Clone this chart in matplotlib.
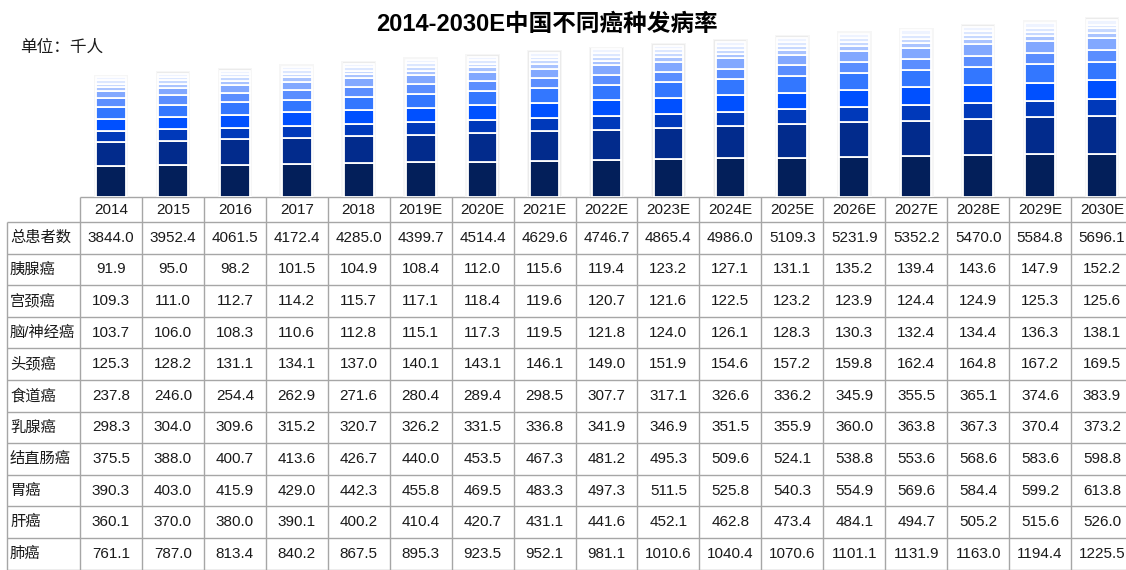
import matplotlib.pyplot as plt
import numpy as np

plt.rcParams['font.family'] = ['Liberation Sans', 'Noto Sans CJK SC']

years = ['2014', '2015', '2016', '2017', '2018', '2019E', '2020E', '2021E', '2022E',
         '2023E', '2024E', '2025E', '2026E', '2027E', '2028E', '2029E', '2030E']
total = [3844.0, 3952.4, 4061.5, 4172.4, 4285.0, 4399.7, 4514.4, 4629.6, 4746.7,
         4865.4, 4986.0, 5109.3, 5231.9, 5352.2, 5470.0, 5584.8, 5696.1]
pancreas = [91.9, 95.0, 98.2, 101.5, 104.9, 108.4, 112.0, 115.6, 119.4,
            123.2, 127.1, 131.1, 135.2, 139.4, 143.6, 147.9, 152.2]
cervix = [109.3, 111.0, 112.7, 114.2, 115.7, 117.1, 118.4, 119.6, 120.7,
          121.6, 122.5, 123.2, 123.9, 124.4, 124.9, 125.3, 125.6]
brain = [103.7, 106.0, 108.3, 110.6, 112.8, 115.1, 117.3, 119.5, 121.8,
         124.0, 126.1, 128.3, 130.3, 132.4, 134.4, 136.3, 138.1]
head_neck = [125.3, 128.2, 131.1, 134.1, 137.0, 140.1, 143.1, 146.1, 149.0,
             151.9, 154.6, 157.2, 159.8, 162.4, 164.8, 167.2, 169.5]
esophagus = [237.8, 246.0, 254.4, 262.9, 271.6, 280.4, 289.4, 298.5, 307.7,
             317.1, 326.6, 336.2, 345.9, 355.5, 365.1, 374.6, 383.9]
breast = [298.3, 304.0, 309.6, 315.2, 320.7, 326.2, 331.5, 336.8, 341.9,
          346.9, 351.5, 355.9, 360.0, 363.8, 367.3, 370.4, 373.2]
colorectal = [375.5, 388.0, 400.7, 413.6, 426.7, 440.0, 453.5, 467.3, 481.2,
              495.3, 509.6, 524.1, 538.8, 553.6, 568.6, 583.6, 598.8]
stomach = [390.3, 403.0, 415.9, 429.0, 442.3, 455.8, 469.5, 483.3, 497.3,
           511.5, 525.8, 540.3, 554.9, 569.6, 584.4, 599.2, 613.8]
liver = [360.1, 370.0, 380.0, 390.1, 400.2, 410.4, 420.7, 431.1, 441.6,
         452.1, 462.8, 473.4, 484.1, 494.7, 505.2, 515.6, 526.0]
lung = [761.1, 787.0, 813.4, 840.2, 867.5, 895.3, 923.5, 952.1, 981.1,
        1010.6, 1040.4, 1070.6, 1101.1, 1131.9, 1163.0, 1194.4, 1225.5]

row_labels = ['总患者数', '胰腺癌', '宫颈癌', '脑/神经癌', '头颈癌', '食道癌',
              '乳腺癌', '结直肠癌', '胃癌', '肝癌', '肺癌']
rows = [total, pancreas, cervix, brain, head_neck, esophagus,
        breast, colorectal, stomach, liver, lung]

# 其余癌种 = 总数 - 十个癌种之和
named = np.array(rows[1:])
other = np.array(total) - named.sum(axis=0)

# 从下往上堆叠
stack = [other, lung, liver, stomach, colorectal, breast, esophagus,
         head_neck, brain, cervix, pancreas]
colors = ['#031f5a', '#022b8c', '#0039ba', '#0050ff', '#3377ff', '#5b8eff',
          '#82a8ff', '#a9c3ff', '#c6d8ff', '#dce7ff', '#eef3ff']

W, H = 1126, 570
fig = plt.figure(figsize=(W / 100, H / 100), dpi=100)

# 表格网格（像素坐标）
x0, x1 = 80, 80 + 17 * 61.94
top, head_bot, row_h = 197, 222, 31.6
col_w = (x1 - x0) / 17

tab = fig.add_axes([0, 0, 1, 1])
tab.set_xlim(0, W)
tab.set_ylim(H, 0)
tab.axis('off')
line_c = '#a6a6a6'
txt_c = '#1a1a1a'
tab.hlines(top, x0, x1, color=line_c, lw=1)
for i in range(len(rows) + 1):
    tab.hlines(head_bot + i * row_h, 7, x1, color=line_c, lw=1)
tab.vlines(7, head_bot, head_bot + len(rows) * row_h, color=line_c, lw=1)
for j in range(18):
    tab.vlines(x0 + j * col_w, top, head_bot + len(rows) * row_h, color=line_c, lw=1)

for j, yr in enumerate(years):
    tab.text(x0 + (j + 0.5) * col_w, (top + head_bot) / 2 + 1, yr,
             ha='center', va='center', fontsize=11, color=txt_c)
for i, (lab, vals) in enumerate(zip(row_labels, rows)):
    yc = head_bot + (i + 0.5) * row_h
    tab.text(10, yc, lab, ha='left', va='center', fontsize=11, color=txt_c)
    for j, v in enumerate(vals):
        tab.text(x0 + (j + 0.5) * col_w, yc, '%.1f' % v,
                 ha='center', va='center', fontsize=11, color=txt_c)

# 堆叠柱状图
ax_h = 182
ax = fig.add_axes([x0 / W, (H - top) / H, (x1 - x0) / W, ax_h / H])
ax.set_xlim(-0.5, 16.5)
ax.set_ylim(0, 5850)
ax.axis('off')
x = np.arange(len(years))
tot = np.array(total)
# 柱子外的浅灰阴影
ax.bar(x, tot + 90, width=0.56, color='#f6f6f6', zorder=1)
ax.bar(x, tot + 50, width=0.52, color='#ebebeb', zorder=1)
bottom = np.zeros(len(years))
for vals, c in zip(stack, colors):
    vals = np.array(vals)
    ax.bar(x, vals, width=0.48, bottom=bottom, color=c,
           edgecolor='white', linewidth=1.3, zorder=2)
    bottom += vals

fig.text(547 / W, 1 - 24 / H, '2014-2030E中国不同癌种发病率',
         ha='center', va='center', fontsize=17, fontweight='bold')
fig.text(20 / W, 1 - 47 / H, '单位：千人', ha='left', va='center', fontsize=12,
         color=txt_c)

fig.savefig('out.png', dpi=100)
